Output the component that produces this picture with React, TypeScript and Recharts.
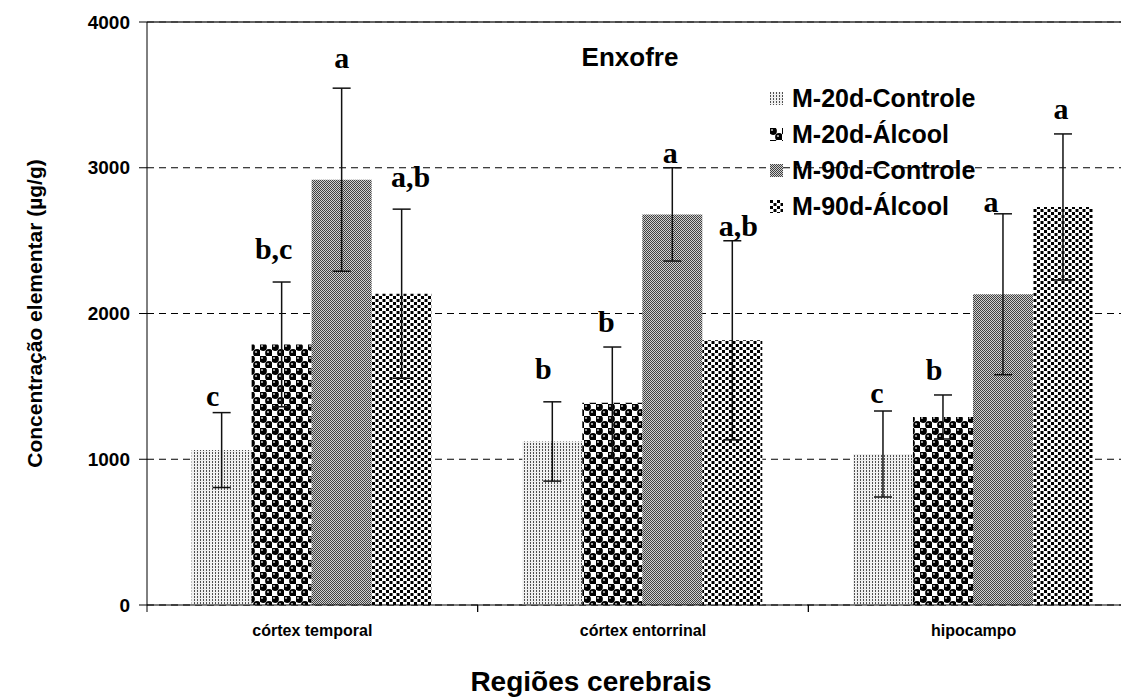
import React from "react";
import {
  BarChart,
  Bar,
  XAxis,
  YAxis,
  CartesianGrid,
  ErrorBar,
  LabelList,
  Legend,
  ReferenceLine,
} from "recharts";

const regions = ["córtex temporal", "córtex entorrinal", "hipocampo"];

const m20Controle = [1063, 1122, 1036];
const m20ControleErr = [257, 272, 295];
const m20Alcool = [1788, 1388, 1290];
const m20AlcoolErr = [428, 382, 151];
const m90Controle = [2918, 2680, 2132];
const m90ControleErr = [628, 320, 552];
const m90Alcool = [2136, 1816, 2731];
const m90AlcoolErr = [580, 683, 501];

const lettersM20Controle = ["c", "b", "c"];
const lettersM20Alcool = ["b,c", "b", "b"];
const lettersM90Controle = ["a", "a", "a"];
const lettersM90Alcool = ["a,b", "a,b", "a"];

const yTicks = [0, 1000, 2000, 3000, 4000];

const data = regions.map((region, i) => ({
  region,
  m20c: m20Controle[i],
  m20cErr: m20ControleErr[i],
  m20a: m20Alcool[i],
  m20aErr: m20AlcoolErr[i],
  m90c: m90Controle[i],
  m90cErr: m90ControleErr[i],
  m90a: m90Alcool[i],
  m90aErr: m90AlcoolErr[i],
}));

// letter placement relative to the error bar cap: [dx, gap above cap]
const series = [
  { key: "m20c", name: "M-20d-Controle", pat: "pat20c", values: m20Controle, errs: m20ControleErr, letters: lettersM20Controle, nudge: [[-9, 7], [-9, 23], [-6, 8]] },
  { key: "m20a", name: "M-20d-Álcool", pat: "pat20a", values: m20Alcool, errs: m20AlcoolErr, letters: lettersM20Alcool, nudge: [[-8, 23], [-6, 15], [-9, 15]] },
  { key: "m90c", name: "M-90d-Controle", pat: "pat90c", values: m90Controle, errs: m90ControleErr, letters: lettersM90Controle, nudge: [[0, 20], [-2, 5], [-12, 2]] },
  { key: "m90a", name: "M-90d-Álcool", pat: "pat90a", values: m90Alcool, errs: m90AlcoolErr, letters: lettersM90Alcool, nudge: [[9, 22], [6, 5], [-2, 15]] },
];

const sans = "'Liberation Sans', Arial, Helvetica, sans-serif";
const serif = "'Liberation Serif', 'Times New Roman', serif";

const makeLetter = (s: any) => (props: any) => {
  const { x, y, width, height, index } = props;
  const val = s.values[index];
  const err = s.errs[index];
  const capY = Number(y) - (err / val) * Number(height);
  const [dx, gap] = s.nudge[index];
  return (
    <text
      x={Number(x) + Number(width) / 2 + dx}
      y={capY - gap}
      textAnchor="middle"
      fontFamily={serif}
      fontWeight="bold"
      fontSize={30}
      fill="#000"
    >
      {s.letters[index]}
    </text>
  );
};

// category label at the band centre, tick mark at the band's left edge
const RegionTick = (props: any) => {
  const { x, y, width, visibleTicksCount, payload } = props;
  const band = Number(width) / (visibleTicksCount || regions.length);
  const left = x - band / 2;
  return (
    <g>
      <line x1={left} x2={left} y1={y} y2={y + 7} stroke="#000" strokeWidth={1} />
      <line x1={left + band} x2={left + band} y1={y} y2={y + 7} stroke="#000" strokeWidth={1} />
      <text x={x} y={y + 31} textAnchor="middle" fontFamily={sans} fontWeight="bold" fontSize={16} fill="#000">
        {payload.value}
      </text>
    </g>
  );
};

const LegendBox = () => (
  <div style={{ fontFamily: sans, fontWeight: "bold", fontSize: 25, color: "#000" }}>
    {series.map((s) => (
      <div key={s.key} style={{ display: "flex", alignItems: "center", height: 36 }}>
        <svg width={13} height={13} style={{ marginRight: 9 }}>
          <rect width={13} height={13} fill={`url(#${s.pat})`} />
        </svg>
        <span>{s.name}</span>
      </div>
    ))}
  </div>
);

export default function App() {
  return (
    <div style={{ width: 1121, height: 690, overflow: "hidden" }}>
      <BarChart
        width={1140}
        height={690}
        data={data}
        margin={{ top: 14, right: 9, bottom: 0, left: 0 }}
        barCategoryGap="13.5%"
        barGap={0}
      >
        <defs>
          <pattern id="pat20c" width={3} height={3} patternUnits="userSpaceOnUse">
            <rect width={3} height={3} fill="#f0f0f0" />
            <rect x={0} y={0} width={1} height={2} fill="#505050" />
          </pattern>
          <pattern id="pat20a" width={12} height={12} patternUnits="userSpaceOnUse">
            <rect width={12} height={12} fill="#fff" />
            <circle cx={3} cy={3} r={3.9} fill="#000" />
            <circle cx={9} cy={9} r={3.9} fill="#000" />
            <circle cx={2} cy={2} r={1.1} fill="#bbb" />
            <circle cx={8} cy={8} r={1.1} fill="#bbb" />
          </pattern>
          <pattern id="pat90c" width={2} height={2} patternUnits="userSpaceOnUse">
            <rect width={2} height={2} fill="#d0d0d0" />
            <rect x={0} y={0} width={1} height={1} fill="#404040" />
            <rect x={1} y={1} width={1} height={1} fill="#404040" />
          </pattern>
          <pattern id="pat90a" width={7} height={6} patternUnits="userSpaceOnUse">
            <rect width={7} height={6} fill="#fff" />
            <rect x={0} y={0} width={3} height={3} fill="#000" />
            <rect x={3.5} y={3} width={3} height={3} fill="#000" />
          </pattern>
        </defs>
        <CartesianGrid vertical={false} stroke="#000" strokeDasharray="7 5" />
        <XAxis
          dataKey="region"
          interval={0}
          height={93}
          tickLine={false}
          tickSize={0}
          tickMargin={0}
          tick={<RegionTick />}
          axisLine={{ stroke: "#000" }}
          label={{
            content: () => (
              <text x={583} y={683} textAnchor="middle" fontFamily={sans} fontWeight="bold" fontSize={28} fill="#000">
                Regiões cerebrais
              </text>
            ),
          }}
        />
        <YAxis
          width={139}
          domain={[0, 4000]}
          ticks={yTicks}
          interval={0}
          tickSize={8}
          tickMargin={9}
          axisLine={{ stroke: "#000" }}
          tickLine={{ stroke: "#000" }}
          tick={{ fontFamily: sans, fontWeight: "bold", fontSize: 19, fill: "#000" }}
          label={{
            content: (p: any) => {
              const vb = p.viewBox;
              const cx = 34;
              const cy = vb.y + vb.height / 2;
              return (
                <text
                  x={cx}
                  y={cy}
                  transform={`rotate(-90, ${cx}, ${cy})`}
                  textAnchor="middle"
                  fontFamily={sans}
                  fontWeight="bold"
                  fontSize={21}
                  fill="#000"
                >
                  Concentração elementar (µg/g)
                </text>
              );
            },
          }}
        />
        <ReferenceLine y={4000} stroke="#333" strokeWidth={1.5} />
        {series.map((s) => (
          <Bar
            key={s.key}
            dataKey={s.key}
            name={s.name}
            fill={`url(#${s.pat})`}
            isAnimationActive={false}
          >
            <ErrorBar dataKey={`${s.key}Err`} width={9} stroke="#111" strokeWidth={1.5} direction="y" />
            <LabelList dataKey={s.key} content={makeLetter(s)} />
          </Bar>
        ))}
        <text x={622} y={58} textAnchor="middle" fontFamily={sans} fontWeight="bold" fontSize={26} fill="#000">
          Enxofre
        </text>
        <Legend
          layout="horizontal"
          verticalAlign="middle"
          align="center"
          content={() => <LegendBox />}
          wrapperStyle={{ left: 762, top: 72, width: 260 }}
        />
      </BarChart>
    </div>
  );
}
